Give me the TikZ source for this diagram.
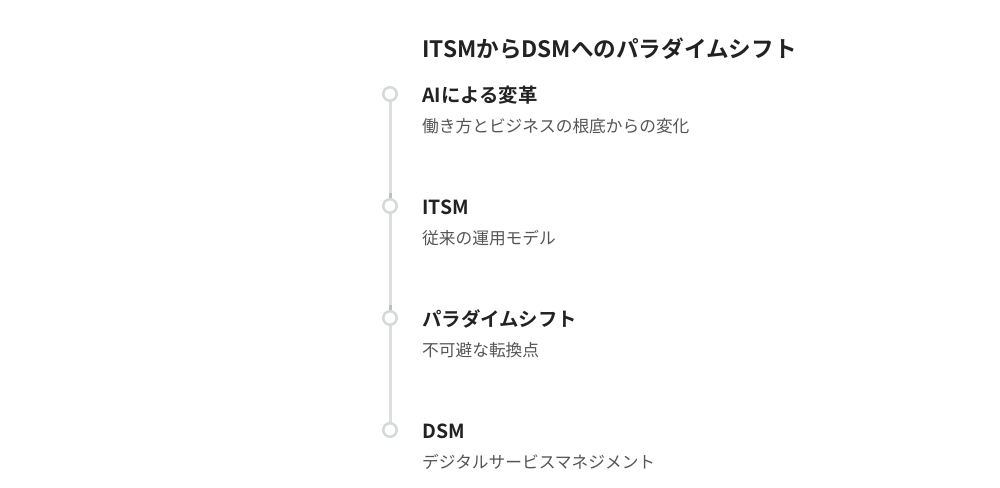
\documentclass[tikz,border=0pt]{standalone}
\usepackage{fontspec}
\setmainfont{Noto Sans CJK JP}
\newfontfamily\jpbold{Noto Sans CJK JP Bold}
\definecolor{titlecol}{HTML}{222222}
\definecolor{subcol}{HTML}{555555}
\definecolor{linecol}{HTML}{DCDFE0}
\definecolor{ringcol}{HTML}{D6D9DA}
\definecolor{joincol}{HTML}{BBBEBF}
\begin{document}
\begin{tikzpicture}[x=1pt,y=-1pt,
  titletext/.style={anchor=base west,inner sep=0pt,text=titlecol,font=\jpbold\fontsize{22.6}{27}\selectfont},
  headtext/.style={anchor=base west,inner sep=0pt,text=titlecol,font=\jpbold\fontsize{19.4}{23}\selectfont},
  subtext/.style={anchor=base west,inner sep=0pt,text=subcol,font=\fontsize{16.7}{20}\selectfont},
  ring/.style={circle,draw=ringcol,line width=2.5pt,fill=white,minimum size=13.5pt,inner sep=0pt},
  track/.style={draw=linecol,line width=3pt},
  joint/.style={draw=joincol,line width=3pt}]
\useasboundingbox[fill=white] (0,0) rectangle (1000,487);
\node[titletext] (title) at (422,57) {ITSMからDSMへのパラダイムシフト};
\foreach \i/\y in {1/94,2/206,3/318,4/430}{
  \coordinate (p\i) at (390,\y);
}
\draw[track] (p1) -- (p2);
\draw[track] (p2) -- (p3);
\draw[track] (p3) -- (p4);
\foreach \i/\y in {2/206,3/318}{
  \coordinate (ja\i) at (390,\y-13);
  \coordinate (jb\i) at (390,\y-8);
  \draw[joint] (ja\i) -- (jb\i);
}
\node[ring] (c1) at (p1) {};
\node[ring] (c2) at (p2) {};
\node[ring] (c3) at (p3) {};
\node[ring] (c4) at (p4) {};
\node[headtext] (h1) at (422,102.5) {AIによる変革};
\node[subtext] (s1) at (422,132.3) {働き方とビジネスの根底からの変化};
\node[headtext] (h2) at (422,214.5) {ITSM};
\node[subtext] (s2) at (422,244.3) {従来の運用モデル};
\node[headtext] (h3) at (422,326.5) {パラダイムシフト};
\node[subtext] (s3) at (422,356.3) {不可避な転換点};
\node[headtext] (h4) at (422,438.5) {DSM};
\node[subtext] (s4) at (422,468.3) {デジタルサービスマネジメント};
\end{tikzpicture}
\end{document}
